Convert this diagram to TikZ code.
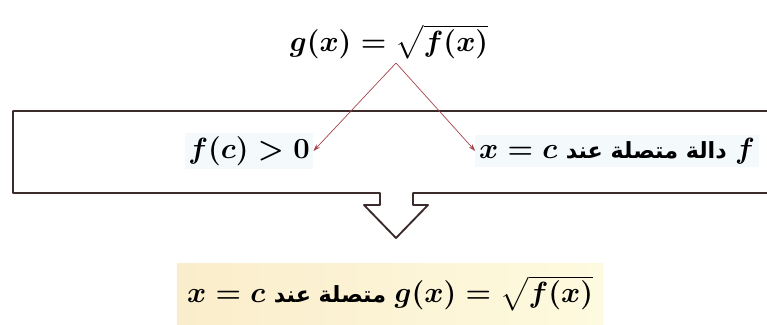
\documentclass[tikz,border=0pt]{standalone}
\usepackage{amsmath,amssymb}
\usepackage{fontspec}
\newfontfamily\arabicfont[Script=Arabic]{DejaVu Sans}
\TeXXeTstate=1
\usetikzlibrary{arrows.meta,positioning,calc}
\definecolor{framebrown}{HTML}{3B2B2B}
\definecolor{arrowred}{HTML}{A8444C}
\definecolor{notepaper}{HTML}{FEFADF}
\definecolor{noteedge}{HTML}{FAEDCB}
\definecolor{textbg}{HTML}{F4FAFC}
\tikzset{
    mathbig/.style={font=\fontsize{24}{28}\selectfont\boldmath},
    mathmid/.style={font=\fontsize{24}{28}\selectfont\boldmath},
}
\newcommand{\artext}[1]{{\arabicfont\bfseries\fontsize{19}{24}\selectfont\beginR #1\endR}}

\begin{document}
\begin{tikzpicture}[x=0.03cm, y=-0.03cm]
    \useasboundingbox (0,0) rectangle (767,324);
    % Visual: g(x) = sqrt f(x) splits into two conditions
    \node[mathbig, inner sep=1pt] (gdef) at (389,42) {$g(x)=\sqrt{f(x)}$};
    \coordinate (split) at (396,63);

    % frame with the down arrow
    \draw[framebrown, line width=1.6pt, line join=round]
        (790,111) -- (13,111) -- (13,193) -- (380,193) -- (380,205) -- (364,205)
        -- (396,238) -- (428,205) -- (413,205) -- (413,193) -- (790,193);

    \node[fill=textbg, inner sep=3pt, mathmid] (pos) at (249,151) {$f(c)>0$};
    \node[fill=textbg, inner sep=3pt, mathmid] (cont) at (617,151)
        {$x=c$ \artext{دالة متصلة عند} $f$};

    \draw[arrowred, line width=0.6pt, -{Stealth[length=6pt,width=4pt]}] (split) -- (pos.east);
    \draw[arrowred, line width=0.6pt, -{Stealth[length=6pt,width=4pt]}] (split) -- (cont.west);

    % result
    \node[left color=noteedge, right color=notepaper, minimum width=12.78cm, minimum height=1.83cm,
        mathmid] (result) at (390,293.5)
        {$x=c$ \artext{متصلة عند} $g(x)=\sqrt{f(x)}$};
\end{tikzpicture}
\end{document}
